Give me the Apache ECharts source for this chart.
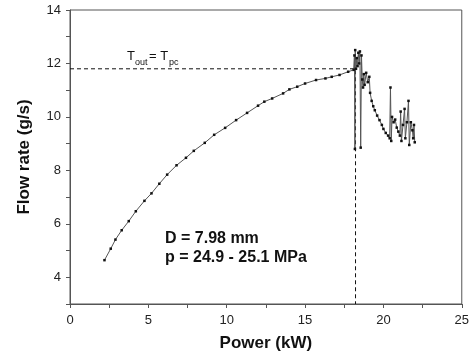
<!DOCTYPE html>
<html>
<head>
<meta charset="utf-8">
<script src="https://cdn.jsdelivr.net/npm/echarts@6/dist/echarts.min.js"></script>
<style>html,body{margin:0;padding:0;background:#fff}#c{width:472px;height:360px}</style>
</head>
<body>
<div id="c"></div>
<script>
// Smooth rising part of the curve: power (kW) and flow rate (g/s)
const risePower = [2.2, 2.6, 2.9, 3.3, 3.75, 4.2, 4.75, 5.2, 5.7, 6.2, 6.8, 7.4, 7.9, 8.6, 9.2, 9.9, 10.6, 11.3, 12.0, 12.4, 12.9, 13.6, 14.0, 14.5, 15.0, 15.7, 16.3, 16.7, 17.2, 17.75, 18.1];
const riseFlow  = [4.64, 5.07, 5.41, 5.76, 6.1, 6.47, 6.86, 7.14, 7.5, 7.84, 8.19, 8.47, 8.73, 9.03, 9.33, 9.59, 9.88, 10.15, 10.42, 10.57, 10.69, 10.88, 11.03, 11.13, 11.25, 11.38, 11.44, 11.5, 11.57, 11.69, 11.76];
// Oscillating part beyond the pseudo-critical point
const oscPower = [18.15, 18.18, 18.2, 18.25, 18.3, 18.35, 18.4, 18.45, 18.5, 18.55, 18.6, 18.65, 18.7, 18.75, 18.8, 18.9, 19.0, 19.1, 19.15, 19.25, 19.35, 19.45, 19.6, 19.75, 19.9, 20.0, 20.15, 20.3, 20.4, 20.45, 20.5, 20.55, 20.65, 20.75, 20.85, 20.95, 21.05, 21.1, 21.15, 21.25, 21.35, 21.4, 21.5, 21.6, 21.65, 21.75, 21.85, 21.9, 21.95, 22.0];
const oscFlow  = [12.3, 8.8, 12.5, 11.8, 12.2, 11.9, 12.4, 12.0, 12.45, 8.85, 12.3, 11.4, 11.1, 11.6, 11.2, 11.65, 11.3, 11.5, 10.9, 10.6, 10.4, 10.25, 10.05, 9.88, 9.7, 9.55, 9.4, 9.3, 9.2, 11.1, 9.1, 10.0, 9.8, 9.9, 9.6, 9.45, 9.3, 10.2, 9.1, 9.7, 10.3, 9.2, 9.8, 10.6, 8.95, 9.8, 9.5, 9.2, 9.7, 9.05];
// Guide lines marking T_out = T_pc
const guidePower = [0, 18.22, 18.22];
const guideFlow  = [11.8, 11.8, 3];

const xTicksShown = [0, 5, 10, 15, 20, 25];
const yTicksShown = [4, 6, 8, 10, 12, 14];

const curve = risePower.map((p, i) => [p, riseFlow[i]])
  .concat(oscPower.map((p, i) => [p, oscFlow[i]]));
const guide = guidePower.map((p, i) => [p, guideFlow[i]]);

const FONT = 'Liberation Sans, Arial, sans-serif';
const chart = echarts.init(document.getElementById('c'), null, {renderer: 'canvas'});
chart.setOption({
  animation: false,
  backgroundColor: '#fff',
  grid: {left: 70, right: 10, top: 10, bottom: 56, show: true, borderColor: '#555', borderWidth: 1},
  xAxis: {
    type: 'value', min: 0, max: 25, interval: 2.5,
    name: 'Power (kW)', nameLocation: 'middle', nameGap: 31,
    nameTextStyle: {fontFamily: FONT, fontWeight: 'bold', fontSize: 17, color: '#111'},
    axisLine: {lineStyle: {color: '#555'}},
    axisTick: {length: 4, lineStyle: {color: '#555'}},
    axisLabel: {fontFamily: FONT, fontSize: 13, color: '#222', margin: 10,
      formatter: v => xTicksShown.indexOf(v) >= 0 ? String(v) : ''},
    splitLine: {show: false}
  },
  yAxis: {
    type: 'value', min: 3, max: 14, interval: 1,
    name: 'Flow rate (g/s)', nameLocation: 'middle', nameGap: 37, nameRotate: 90,
    nameTextStyle: {fontFamily: FONT, fontWeight: 'bold', fontSize: 17, color: '#111'},
    axisLine: {lineStyle: {color: '#555'}},
    axisTick: {length: 4, lineStyle: {color: '#555'}},
    axisLabel: {fontFamily: FONT, fontSize: 13, color: '#222', margin: 9,
      formatter: v => yTicksShown.indexOf(v) >= 0 ? String(v) : ''},
    splitLine: {show: false}
  },
  series: [
    {
      type: 'line', data: guide, symbol: 'none',
      lineStyle: {color: '#111', width: 1, type: [4, 3]}, z: 1
    },
    {
      type: 'line', data: curve, symbol: 'rect', symbolSize: 2.5,
      itemStyle: {color: '#111'},
      lineStyle: {color: '#555', width: 1}, z: 2
    }
  ],
  graphic: [
    {type: 'text', left: 127, top: 50, style: {text: 'T', font: '13px ' + FONT, fill: '#111'}},
    {type: 'text', left: 135, top: 58, style: {text: 'out', font: '9px ' + FONT, fill: '#111'}},
    {type: 'text', left: 149, top: 50, style: {text: '= T', font: '13px ' + FONT, fill: '#111'}},
    {type: 'text', left: 169, top: 58, style: {text: 'pc', font: '9px ' + FONT, fill: '#111'}},
    {type: 'text', left: 165, top: 231, style: {text: 'D = 7.98 mm', font: 'bold 16px ' + FONT, fill: '#111'}},
    {type: 'text', left: 165, top: 250, style: {text: 'p = 24.9 - 25.1 MPa', font: 'bold 16px ' + FONT, fill: '#111'}}
  ]
});
</script>
</body>
</html>
